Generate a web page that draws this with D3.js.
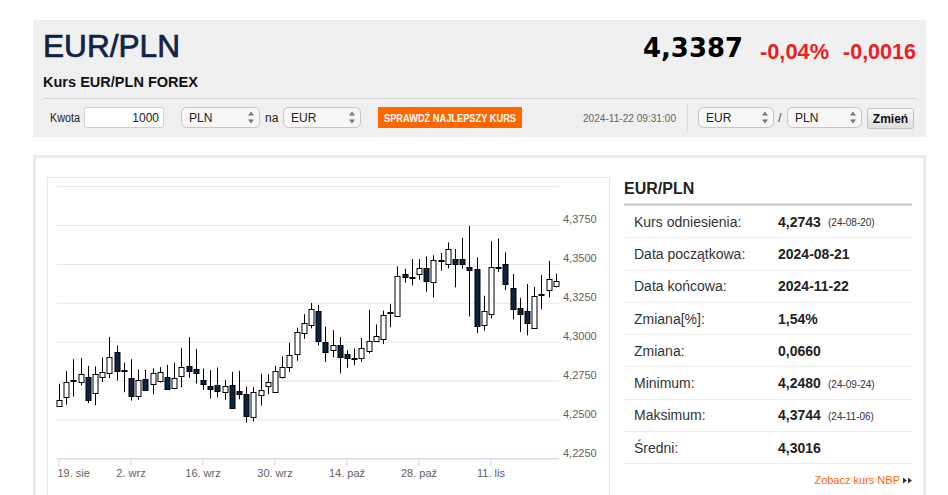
<!DOCTYPE html>
<html><head><meta charset="utf-8">
<script src="https://cdn.jsdelivr.net/npm/d3@7"></script>
<style>body{margin:0;background:#fff;overflow:hidden}svg{display:block}</style>
</head><body>
<script>
const dates = [
"2024-08-19","2024-08-20","2024-08-21","2024-08-22","2024-08-23","2024-08-26","2024-08-27","2024-08-28","2024-08-29","2024-08-30",
"2024-09-02","2024-09-03","2024-09-04","2024-09-05","2024-09-06","2024-09-09","2024-09-10","2024-09-11","2024-09-12","2024-09-13",
"2024-09-16","2024-09-17","2024-09-18","2024-09-19","2024-09-20","2024-09-23","2024-09-24","2024-09-25","2024-09-26","2024-09-27",
"2024-09-30","2024-10-01","2024-10-02","2024-10-03","2024-10-04","2024-10-07","2024-10-08","2024-10-09","2024-10-10","2024-10-11",
"2024-10-14","2024-10-15","2024-10-16","2024-10-17","2024-10-18","2024-10-21","2024-10-22","2024-10-23","2024-10-24","2024-10-25",
"2024-10-28","2024-10-29","2024-10-30","2024-10-31","2024-11-01","2024-11-04","2024-11-05","2024-11-06","2024-11-07","2024-11-08",
"2024-11-11","2024-11-12","2024-11-13","2024-11-14","2024-11-15","2024-11-18","2024-11-19","2024-11-20","2024-11-21","2024-11-22"];
const open = [4.2587,4.2643,4.2752,4.2739,4.2771,4.2668,4.2771,4.2799,4.2932,4.2820,
4.2765,4.2653,4.2759,4.2726,4.2744,4.2771,4.2701,4.2778,4.2842,4.2821,
4.2754,4.2714,4.2720,4.2675,4.2720,4.2681,4.2662,4.2514,4.2656,4.2711,
4.2673,4.2774,4.2840,4.2920,4.3055,4.3104,4.3199,4.3000,4.2945,4.2977,
4.2922,4.2895,4.2896,4.2937,4.3001,4.3014,4.3188,4.3162,4.3435,4.3417,
4.3435,4.3475,4.3381,4.3527,4.3503,4.3533,4.3533,4.3480,4.3467,4.3104,
4.3183,4.3480,4.3499,4.3347,4.3218,4.3199,4.3091,4.3304,4.3334,4.3355];
const high = [4.2729,4.2810,4.2887,4.2894,4.2844,4.2840,4.2898,4.3031,4.2975,4.2864,
4.2887,4.2821,4.2819,4.2829,4.2836,4.2851,4.2864,4.2958,4.3029,4.2952,
4.2827,4.2817,4.2834,4.2754,4.2806,4.2812,4.2711,4.2707,4.2793,4.2791,
4.2844,4.2905,4.2993,4.3089,4.3177,4.3248,4.3237,4.3096,4.3074,4.3029,
4.2945,4.2956,4.3023,4.3205,4.3111,4.3199,4.3241,4.3484,4.3469,4.3531,
4.3531,4.3548,4.3555,4.3570,4.3638,4.3595,4.3666,4.3744,4.3542,4.3295,
4.3645,4.3662,4.3574,4.3435,4.3282,4.3370,4.3351,4.3428,4.3520,4.3437];
const low = [4.2583,4.2595,4.2647,4.2718,4.2604,4.2591,4.2741,4.2765,4.2750,4.2675,
4.2621,4.2626,4.2683,4.2662,4.2737,4.2694,4.2694,4.2707,4.2767,4.2731,
4.2690,4.2634,4.2641,4.2626,4.2568,4.2630,4.2480,4.2486,4.2589,4.2662,
4.2670,4.2763,4.2804,4.2877,4.3018,4.3085,4.2975,4.2870,4.2898,4.2797,
4.2832,4.2849,4.2870,4.2924,4.3000,4.2984,4.3093,4.3160,4.3379,4.3362,
4.3398,4.3321,4.3284,4.3456,4.3471,4.3349,4.3469,4.3162,4.3055,4.3070,
4.3149,4.3447,4.3332,4.3143,4.3061,4.3040,4.3089,4.3209,4.3284,4.3349];
const close = [4.2626,4.2739,4.2756,4.2791,4.2626,4.2791,4.2806,4.2902,4.2810,4.2816,
4.2649,4.2756,4.2690,4.2797,4.2804,4.2696,4.2767,4.2834,4.2810,4.2795,
4.2726,4.2696,4.2679,4.2714,4.2572,4.2662,4.2518,4.2675,4.2688,4.2739,
4.2810,4.2838,4.2915,4.3061,4.3117,4.3209,4.3008,4.2937,4.2980,4.2898,
4.2898,4.2892,4.2962,4.3003,4.3035,4.3171,4.3190,4.3422,4.3415,4.3415,
4.3475,4.3394,4.3525,4.3520,4.3598,4.3499,4.3503,4.3458,4.3098,4.3196,
4.3482,4.3482,4.3370,4.3209,4.3177,4.3123,4.3295,4.3308,4.3402,4.3387];
const xTickDates = ["2024-08-19","2024-09-02","2024-09-16","2024-09-30","2024-10-14","2024-10-28","2024-11-11"];
const xTickLabels = ["19. sie","2. wrz","16. wrz","30. wrz","14. paź","28. paź","11. lis"];
const yTicks = [4.225,4.250,4.275,4.300,4.325,4.350,4.375,4.400];
const yLabelTicks = [4.225,4.250,4.275,4.300,4.325,4.350,4.375];
const statLabels = ["Kurs odniesienia:","Data początkowa:","Data końcowa:","Zmiana[%]:","Zmiana:","Minimum:","Maksimum:","Średni:"];
const statValues = ["4,2743","2024-08-21","2024-11-22","1,54%","0,0660","4,2480","4,3744","4,3016"];
const statDates = ["(24-08-20)","","","","","(24-09-24)","(24-11-06)",""];

const F = "'Liberation Sans', Arial, sans-serif";
const svg = d3.select("body").append("svg").attr("width",948).attr("height",495)
  .style("font-family",F);

// ---------- header ----------
const hd = svg.append("g");
hd.append("rect").attr("x",33).attr("y",20).attr("width",893).attr("height",117).attr("fill","#f0f0f0");
hd.append("text").attr("x",43).attr("y",57).attr("font-size",31.5).attr("fill","#0f2447")
  .attr("stroke","#0f2447").attr("stroke-width",0.7)
  .attr("textLength",137).attr("lengthAdjust","spacingAndGlyphs").text("EUR/PLN");
hd.append("text").attr("x",43).attr("y",87).attr("font-size",14.5).attr("font-weight","bold").attr("fill","#111")
  .attr("textLength",155).attr("lengthAdjust","spacingAndGlyphs").text("Kurs EUR/PLN FOREX");
hd.append("text").attr("x",643).attr("y",57).attr("font-size",26.5).attr("font-weight","bold").attr("fill","#000")
  .style("font-family","'DejaVu Sans', Verdana, sans-serif")
  .attr("textLength",100).attr("lengthAdjust","spacingAndGlyphs").text("4,3387");
hd.append("text").attr("x",760).attr("y",59).attr("font-size",22).attr("font-weight","bold").attr("fill","#ee1c25")
  .attr("textLength",69).attr("lengthAdjust","spacingAndGlyphs").text("-0,04%");
hd.append("text").attr("x",843).attr("y",59).attr("font-size",22).attr("font-weight","bold").attr("fill","#ee1c25")
  .attr("textLength",73).attr("lengthAdjust","spacingAndGlyphs").text("-0,0016");
hd.append("line").attr("x1",43).attr("x2",916).attr("y1",98.5).attr("y2",98.5).attr("stroke","#d4d4d4");

function selectBox(x,w,label){
  const g = hd.append("g");
  g.append("rect").attr("x",x+0.5).attr("y",107.5).attr("width",w).attr("height",20).attr("rx",5)
    .attr("fill","#f7f7f7").attr("stroke","#c6c6c6");
  g.append("text").attr("x",x+8).attr("y",121.5).attr("font-size",12).attr("fill","#222").text(label);
  const ax = x+w-8;
  g.append("path").attr("d",`M${ax-3},115.5 L${ax+3},115.5 L${ax},111.5 Z`).attr("fill","#777");
  g.append("path").attr("d",`M${ax-3},119.5 L${ax+3},119.5 L${ax},123.5 Z`).attr("fill","#777");
}
hd.append("text").attr("x",50).attr("y",121.5).attr("font-size",12).attr("fill","#222")
  .attr("textLength",30).attr("lengthAdjust","spacingAndGlyphs").text("Kwota");
hd.append("rect").attr("x",84.5).attr("y",107.5).attr("width",79).attr("height",20).attr("rx",2)
  .attr("fill","#fff").attr("stroke","#cfcfcf");
hd.append("text").attr("x",159).attr("y",121.5).attr("text-anchor","end").attr("font-size",12).attr("fill","#222").text("1000");
selectBox(181,78,"PLN");
hd.append("text").attr("x",265).attr("y",121.5).attr("font-size",12).attr("fill","#222").text("na");
selectBox(283,77,"EUR");
hd.append("rect").attr("x",378).attr("y",107).attr("width",144).attr("height",21).attr("fill","#ff6600");
hd.append("text").attr("x",450).attr("y",121.5).attr("text-anchor","middle").attr("font-size",10.5).attr("font-weight","bold")
  .attr("fill","#fff").attr("textLength",132).attr("lengthAdjust","spacingAndGlyphs").text("SPRAWDŹ NAJLEPSZY KURS");
hd.append("text").attr("x",583).attr("y",121.5).attr("font-size",11).attr("fill","#666")
  .attr("textLength",93).attr("lengthAdjust","spacingAndGlyphs").text("2024-11-22 09:31:00");
hd.append("line").attr("x1",687.5).attr("x2",687.5).attr("y1",104).attr("y2",131).attr("stroke","#dcdcdc");
selectBox(698,75,"EUR");
hd.append("text").attr("x",778).attr("y",122).attr("font-size",13).attr("fill","#555").text("/");
selectBox(787,74,"PLN");
const grad = svg.append("defs").append("linearGradient").attr("id","btn").attr("x1",0).attr("x2",0).attr("y1",0).attr("y2",1);
grad.append("stop").attr("offset","0%").attr("stop-color","#fafafa");
grad.append("stop").attr("offset","100%").attr("stop-color","#dedede");
hd.append("rect").attr("x",867.5).attr("y",108.5).attr("width",46).attr("height",20).attr("rx",2)
  .attr("fill","url(#btn)").attr("stroke","#c2c2c2");
hd.append("text").attr("x",890.5).attr("y",122.5).attr("text-anchor","middle").attr("font-size",12).attr("font-weight","bold")
  .attr("fill","#111").text("Zmień");

// ---------- panels ----------
svg.append("rect").attr("x",34.5).attr("y",156.5).attr("width",890).attr("height",345)
  .attr("fill","#fff").attr("stroke","#ececec").attr("stroke-width",3);
svg.append("rect").attr("x",47.5).attr("y",177.5).attr("width",562).attr("height",330)
  .attr("fill","#fff").attr("stroke","#e8e8e8");

// ---------- chart ----------
const x = d3.scaleBand().domain(dates).range([55.4, 559.4]);
const y = d3.scaleLinear().domain([4.225, 4.400]).range([458.3, 186.1]);
const cx = d => x(d) + x.bandwidth()/2;

const grid = svg.append("g").attr("transform","translate(559,0)")
  .call(d3.axisRight(y).tickValues(yTicks).tickSize(-502).tickPadding(4)
    .tickFormat(d => yLabelTicks.some(v => Math.abs(v-d)<1e-9) ? d.toFixed(4).replace(".",",") : ""));
grid.select(".domain").remove();
grid.selectAll(".tick line").attr("stroke","#e6e6e6");
grid.selectAll(".tick text").attr("dy",0).attr("y",-2).attr("fill","#606060")
  .attr("font-size",11).style("font-family",F);

const xa = svg.append("g").attr("transform","translate(0,458.3)")
  .call(d3.axisBottom(x).tickValues(xTickDates).tickSize(8).tickSizeOuter(0).tickPadding(3)
    .tickFormat((d,i) => xTickLabels[i]));
xa.select(".domain").attr("stroke","#ccd6eb").attr("d","M57,0.5H559");
xa.selectAll(".tick line").attr("stroke","#ccd6eb");
xa.selectAll(".tick text").attr("fill","#606060").attr("font-size",11).style("font-family",F);
xa.selectAll(".tick text").filter((d,i)=>i===0).attr("text-anchor","start").attr("x", 57 - cx(dates[0]) + 0.5);

const candles = svg.append("g").selectAll("g").data(dates).join("g");
candles.append("line")
  .attr("x1",(d)=>Math.round(cx(d))+0.5).attr("x2",(d)=>Math.round(cx(d))+0.5)
  .attr("y1",(d,i)=>y(high[i])).attr("y2",(d,i)=>y(low[i]))
  .attr("stroke","#000").attr("stroke-width",1);
candles.append("rect")
  .attr("x",(d)=>Math.round(cx(d))-2)
  .attr("width",5)
  .attr("y",(d,i)=>Math.round(y(Math.max(open[i],close[i])))+0.5)
  .attr("height",(d,i)=>Math.max(1, Math.round(Math.abs(y(open[i])-y(close[i])))))
  .attr("fill",(d,i)=> close[i] < open[i] ? "#0c2340" : "#fff")
  .attr("stroke","#000").attr("stroke-width",1);

// ---------- stats ----------
const st = svg.append("g");
st.append("text").attr("x",624).attr("y",194).attr("font-size",16).attr("font-weight","bold").attr("fill","#222").text("EUR/PLN");
st.append("line").attr("x1",624).attr("x2",912).attr("y1",204.5).attr("y2",204.5).attr("stroke","#c4c4c4").attr("stroke-width",2);
const rowY = d3.scaleLinear().domain([0,7]).range([226.7, 452.7]);
const rows = st.selectAll("g.row").data(statLabels).join("g").attr("class","row");
rows.append("text").attr("x",634).attr("y",(d,i)=>rowY(i)).attr("font-size",14).attr("fill","#333").text(d=>d);
rows.append("text").attr("x",778).attr("y",(d,i)=>rowY(i)).attr("font-size",14).attr("font-weight","bold").attr("fill","#222")
  .text((d,i)=>statValues[i]);
rows.append("text").attr("x",828).attr("y",(d,i)=>rowY(i)-0.5).attr("font-size",10).attr("fill","#333")
  .text((d,i)=>statDates[i]);
rows.append("line").attr("x1",624).attr("x2",912).attr("y1",(d,i)=>Math.round(rowY(i)+10.6)+0.5).attr("y2",(d,i)=>Math.round(rowY(i)+10.6)+0.5)
  .attr("stroke","#ececec");
st.append("text").attr("x",900).attr("y",484).attr("text-anchor","end").attr("font-size",11).attr("fill","#ff6600").text("Zobacz kurs NBP");
st.append("path").attr("d","M903,477.5 L907,480.5 L903,483.5 Z M908,477.5 L912,480.5 L908,483.5 Z").attr("fill","#333");
</script>
</body></html>
